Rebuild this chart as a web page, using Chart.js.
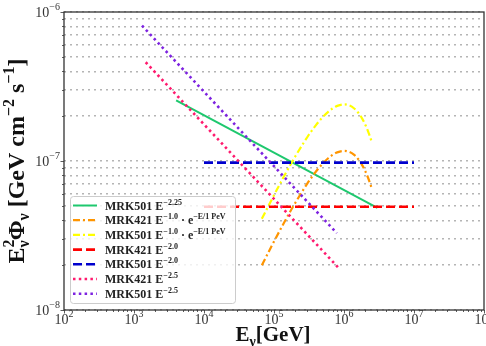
<!DOCTYPE html>
<html>
<head>
<meta charset="utf-8">
<script src="https://cdn.jsdelivr.net/npm/chart.js@4.4.1/dist/chart.umd.min.js"></script>
<style>
  html, body { margin: 0; padding: 0; background: #fff; }
  canvas { display: block; }
</style>
</head>
<body>
<canvas id="flux" width="486" height="346"></canvas>
<script>
// ---- data: neutrino energy [GeV] and E^2 * flux [GeV cm^-2 s^-1] ----

// power-law spectra (straight lines on log-log axes, given by their end points)
const mrk501Pl225E = [4.0e3, 3.0e6];
const mrk501Pl225F = [2.55e-7, 4.85e-8];

const mrk421Pl20E = [1.0e4, 1.0e7];
const mrk421Pl20F = [4.93e-8, 4.93e-8];

const mrk501Pl20E = [1.0e4, 1.0e7];
const mrk501Pl20F = [9.75e-8, 9.75e-8];

const mrk421Pl25E = [1.47e3, 8.8e5];
const mrk421Pl25F = [4.6e-7, 1.87e-8];

const mrk501Pl25E = [1.3e3, 7.9e5];
const mrk501Pl25F = [8.1e-7, 3.28e-8];

// spectra with an exponential cut-off at 1 PeV
const cutoffE = [6.7e4, 1e5, 1.5e5, 2e5, 3e5, 4e5, 5e5, 6e5, 7e5, 8e5,
                 1e6, 1.2e6, 1.4e6, 1.6e6, 1.8e6, 2e6, 2.2e6, 2.5e6];
const mrk421CutF = [1.995e-8, 2.88e-8, 4.11e-8, 5.21e-8, 7.07e-8, 8.53e-8, 9.64e-8, 1.047e-7, 1.105e-7, 1.143e-7,
                    1.170e-7, 1.150e-7, 1.098e-7, 1.027e-7, 9.46e-8, 8.61e-8, 7.75e-8, 6.53e-8];
const mrk501CutF = [4.09e-8, 5.90e-8, 8.42e-8, 1.068e-7, 1.449e-7, 1.748e-7, 1.977e-7, 2.147e-7, 2.266e-7, 2.344e-7,
                    2.399e-7, 2.357e-7, 2.251e-7, 2.106e-7, 1.940e-7, 1.765e-7, 1.589e-7, 1.338e-7];

// axis decades (tick labels are 10^n)
const xDecades = [2, 3, 4, 5, 6, 7, 8];
const yDecades = [-8, -7, -6];

// legend entries: source, spectral index, exponential cut-off
const seriesNames = ['MRK501', 'MRK421', 'MRK501', 'MRK421', 'MRK501', 'MRK421', 'MRK501'];
const seriesIndex = ['\u22122.25', '\u22121.0', '\u22121.0', '\u22122.0', '\u22122.0', '\u22122.5', '\u22122.5'];
const seriesCutoff = [false, true, true, false, false, false, false];

// ---- helpers ----
const pts = (xs, ys) => xs.map((x, i) => ({ x: x, y: ys[i] }));

const minorValues = (lo, hi) => {
  const out = [];
  for (let e = lo; e < hi; e++) for (let m = 1; m <= 9; m++) out.push(m * Math.pow(10, e));
  out.push(Math.pow(10, hi));
  return out;
};

const styles = [
  { color: '#1ec86e', dash: [],            width: 2.0 },
  { color: '#ff9500', dash: [7, 3, 2, 3],  width: 2.2 },
  { color: '#ffff00', dash: [7, 3, 2, 3],  width: 2.2 },
  { color: '#ff0000', dash: [9, 4],        width: 2.6 },
  { color: '#0000cd', dash: [9, 4],        width: 2.6 },
  { color: '#ff1a6e', dash: [2.5, 3.3],    width: 2.6 },
  { color: '#7d22e0', dash: [2.5, 3.3],    width: 2.6 }
];

const curves = [
  pts(mrk501Pl225E, mrk501Pl225F),
  pts(cutoffE, mrk421CutF),
  pts(cutoffE, mrk501CutF),
  pts(mrk421Pl20E, mrk421Pl20F),
  pts(mrk501Pl20E, mrk501Pl20F),
  pts(mrk421Pl25E, mrk421Pl25F),
  pts(mrk501Pl25E, mrk501Pl25F)
];

const datasets = curves.map((d, i) => ({
  data: d,
  borderColor: styles[i].color,
  borderWidth: styles[i].width,
  borderDash: styles[i].dash,
  borderCapStyle: 'butt',
  pointRadius: 0,
  fill: false,
  tension: d.length > 2 ? 0.35 : 0,
  order: curves.length - i
}));

const SERIF = '"Liberation Serif", "DejaVu Serif", serif';

// draw a run of text pieces: {t, f (font), dy (baseline shift), adv (advance x, default true)}
function drawRich(ctx, parts, x, y, align) {
  let total = 0;
  parts.forEach(p => {
    ctx.font = p.f;
    p.w = ctx.measureText(p.t).width;
    if (p.adv !== false) total += p.w;
  });
  let cx = align === 'center' ? x - total / 2 : align === 'right' ? x - total : x;
  ctx.textAlign = 'left';
  ctx.textBaseline = 'alphabetic';
  parts.forEach(p => {
    ctx.font = p.f;
    ctx.fillText(p.t, cx, y + (p.dy || 0));
    if (p.adv !== false) cx += p.w;
  });
}

const powerLabel = (n) => [
  { t: '10', f: '14px ' + SERIF },
  { t: n < 0 ? '\u2212' + Math.abs(n) : String(n), f: '10px ' + SERIF, dy: -7 }
];

const decor = {
  id: 'decor',
  afterDraw(chart) {
    const ctx = chart.ctx;
    const a = chart.chartArea;
    const xs = chart.scales.x, ys = chart.scales.y;
    ctx.save();
    ctx.strokeStyle = '#333';

    // frame
    ctx.lineWidth = 1.3;
    ctx.strokeRect(a.left, a.top, a.right - a.left, a.bottom - a.top);

    // tick marks
    ctx.lineWidth = 0.8;
    minorValues(2, 8).forEach(v => {
      const px = Math.round(xs.getPixelForValue(v)) + 0.5;
      const major = Math.abs(Math.log10(v) - Math.round(Math.log10(v))) < 1e-9;
      ctx.beginPath();
      ctx.moveTo(px, a.bottom);
      ctx.lineTo(px, a.bottom + (major ? 3.5 : 2));
      ctx.stroke();
    });
    minorValues(-8, -6).forEach(v => {
      const py = Math.round(ys.getPixelForValue(v)) + 0.5;
      const major = Math.abs(Math.log10(v) - Math.round(Math.log10(v))) < 1e-9;
      ctx.beginPath();
      ctx.moveTo(a.left, py);
      ctx.lineTo(a.left - (major ? 3.5 : 2), py);
      ctx.stroke();
    });

    // tick labels
    ctx.fillStyle = '#333';
    xDecades.forEach(n => {
      drawRich(ctx, powerLabel(n), xs.getPixelForValue(Math.pow(10, n)), a.bottom + 14, 'center');
    });
    yDecades.forEach(n => {
      drawRich(ctx, powerLabel(n), a.left - 4, ys.getPixelForValue(Math.pow(10, n)) + 5, 'right');
    });

    // axis titles
    ctx.fillStyle = '#111';
    const big = 'bold 21px ' + SERIF;
    drawRich(ctx, [
      { t: 'E', f: big },
      { t: '\u03bd', f: 'bold 14px ' + SERIF, dy: 5 },
      { t: '[GeV]', f: big }
    ], (a.left + a.right) / 2 - 1, 341, 'center');

    const yBig = 'bold 24px ' + SERIF, ySm = 'bold 16px ' + SERIF;
    ctx.save();
    ctx.translate(24, 161);
    ctx.rotate(-Math.PI / 2);
    drawRich(ctx, [
      { t: 'E', f: yBig },
      { t: '2', f: ySm, dy: -10, adv: false },
      { t: '\u03bd', f: ySm, dy: 5 },
      { t: '\u03a6', f: yBig },
      { t: '\u03bd', f: ySm, dy: 5 },
      { t: ' [GeV cm', f: yBig },
      { t: '\u22122', f: ySm, dy: -10 },
      { t: ' s', f: yBig },
      { t: '\u22121', f: ySm, dy: -10 },
      { t: ']', f: yBig }
    ], 0, 0, 'center');
    ctx.restore();

    // legend
    const lx = 70, ly = 196, lw = 165, lh = 107;
    ctx.beginPath();
    ctx.roundRect(lx + 0.5, ly + 0.5, lw, lh, 3);
    ctx.fillStyle = 'rgba(255,255,255,0.8)';
    ctx.fill();
    ctx.strokeStyle = '#cccccc';
    ctx.lineWidth = 1;
    ctx.stroke();

    const lf = 'bold 12px ' + SERIF, sf = 'bold 8px ' + SERIF;
    seriesNames.forEach((name, i) => {
      const yy = ly + 9.5 + i * 14.7;
      const s = styles[i];
      ctx.save();
      ctx.strokeStyle = s.color;
      ctx.lineWidth = s.width;
      ctx.setLineDash(s.dash);
      ctx.lineCap = 'butt';
      ctx.beginPath();
      ctx.moveTo(lx + 3, yy);
      ctx.lineTo(lx + 27, yy);
      ctx.stroke();
      ctx.restore();

      ctx.fillStyle = '#222';
      const parts = [
        { t: name + ' E', f: lf },
        { t: seriesIndex[i], f: sf, dy: -5 }
      ];
      if (seriesCutoff[i]) {
        parts.push({ t: ' \u00b7 e', f: lf });
        parts.push({ t: '\u2212E/1 PeV', f: sf, dy: -5 });
      }
      drawRich(ctx, parts, lx + 35, yy + 4, 'left');
    });

    ctx.restore();
  }
};

new Chart(document.getElementById('flux'), {
  type: 'line',
  data: { datasets: datasets },
  options: {
    responsive: false,
    animation: false,
    devicePixelRatio: 1,
    layout: { padding: { left: 64, right: 2, top: 12, bottom: 36 } },
    plugins: { legend: { display: false }, tooltip: { enabled: false } },
    scales: {
      x: {
        type: 'logarithmic',
        min: 1e2, max: 1e8,
        ticks: { display: false },
        grid: { display: false, drawTicks: false },
        border: { display: false }
      },
      y: {
        type: 'logarithmic',
        min: 1e-8, max: 1e-6,
        afterBuildTicks: (scale) => {
          scale.ticks = minorValues(-8, -6).map(v => ({ value: v }));
        },
        ticks: { display: false },
        grid: {
          drawTicks: false,
          color: 'rgba(150,150,150,0.7)',
          lineWidth: 1.4
        },
        // in Chart.js v4 the border dash also styles the grid lines
        border: { display: false, dash: [2, 4] }
      }
    }
  },
  plugins: [decor]
});
</script>
</body>
</html>
